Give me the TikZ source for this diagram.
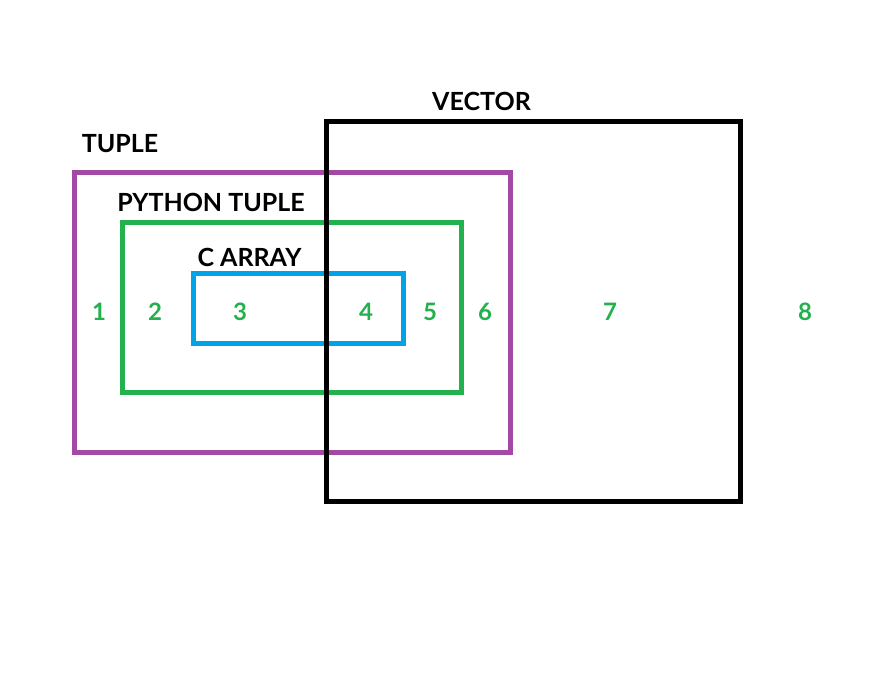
\documentclass[tikz,border=0pt]{standalone}
\usepackage{fontspec}
\setmainfont{Lato}
\definecolor{ppurple}{HTML}{A349A4}
\definecolor{pgreen}{HTML}{22B14C}
\definecolor{pblue}{HTML}{00A2E8}
\begin{document}
\begin{tikzpicture}[x=1pt,y=-1pt,
  box/.style={line width=5pt},
  lbl/.style={inner sep=0pt,font=\fontsize{25}{29}\selectfont\bfseries,text=black},
  num/.style={inner sep=0pt,font=\fontsize{24}{28}\selectfont\bfseries,text=pgreen}]
\useasboundingbox[fill=white] (0,0) rectangle (885,693);
% boxes
\draw[box,ppurple] (74,172.5) rectangle (510,452);
\draw[box,pgreen] (122,222) rectangle (461,392);
\draw[box,pblue] (193,273.5) rectangle (403,343.5);
\draw[box,black] (326.5,121) rectangle (740,501.5);
% labels
\node[lbl] (vector) at (481.5,101.5) {VECTOR};
\node[lbl] (tuple) at (120,144) {TUPLE};
\node[lbl] (pytuple) at (211,202.5) {PYTHON TUPLE};
\node[lbl] (carray) at (249.5,257) {C ARRAY};
% region numbers
\node[num] (n1) at (99,312) {1};
\node[num] (n2) at (155,312) {2};
\node[num] (n3) at (240,312) {3};
\node[num] (n4) at (366,312) {4};
\node[num] (n5) at (430,312) {5};
\node[num] (n6) at (485,312) {6};
\node[num] (n7) at (610,312) {7};
\node[num] (n8) at (805,312) {8};
\end{tikzpicture}
\end{document}
